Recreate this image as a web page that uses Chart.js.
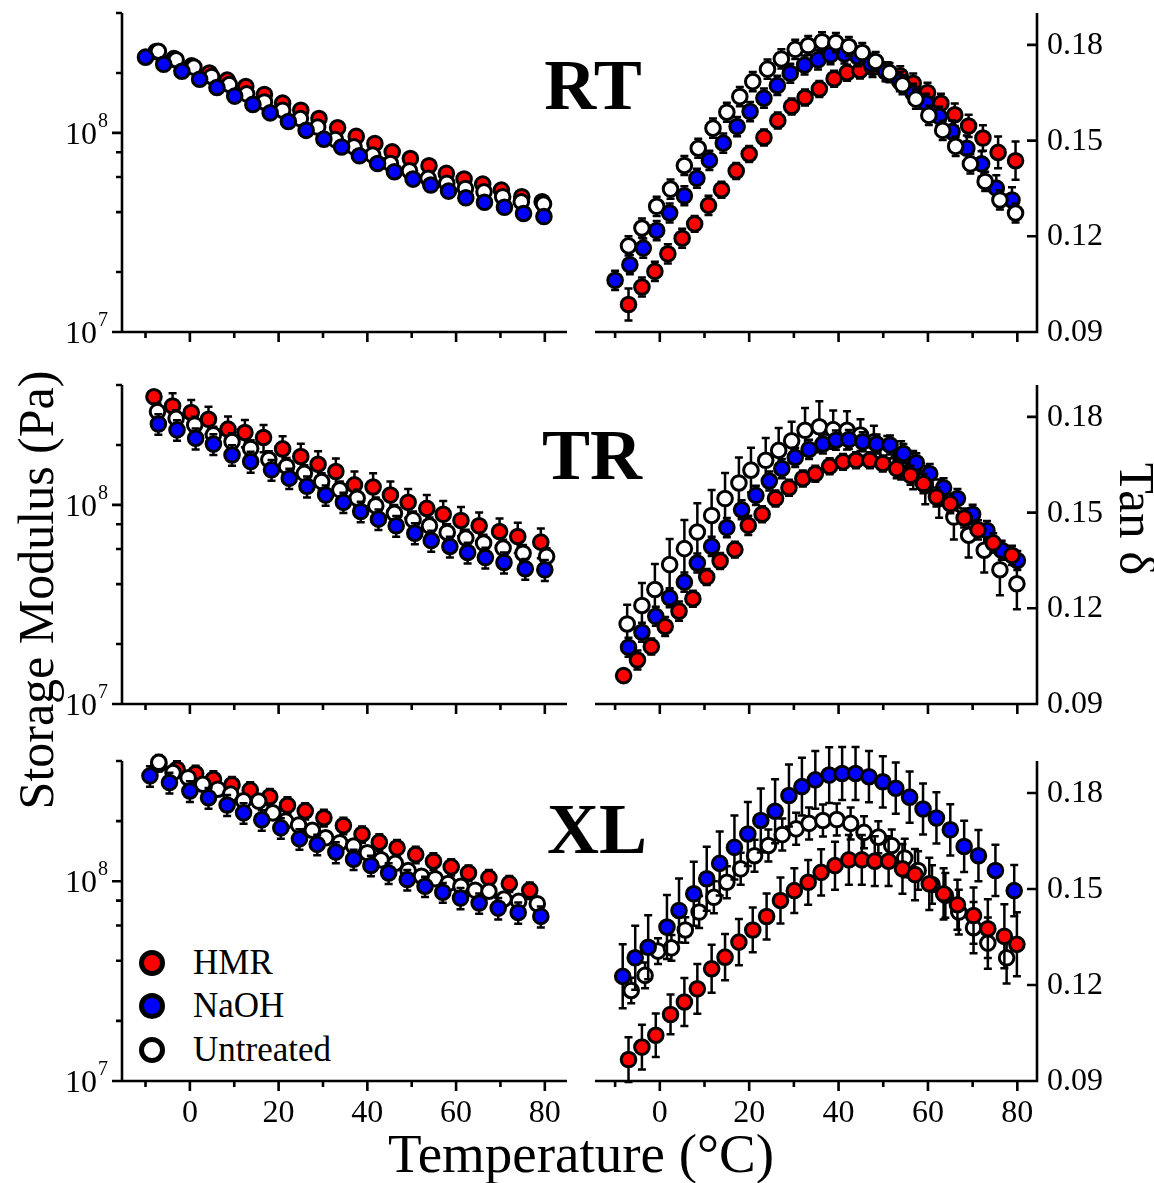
<!DOCTYPE html>
<html lang="en">

<head>
  <meta charset="UTF-8">
  <title>Storage Modulus and Tan δ vs Temperature</title>
  <script src="https://cdn.jsdelivr.net/npm/chart.js"></script>
  <style>
    body { margin: 0; background: #fff; }
    #figure { position: relative; width: 1154px; height: 1183px; overflow: hidden;
      font-family: "Liberation Serif", "Times New Roman", serif; color: #000; }
    #figure canvas { position: absolute; left: 0; top: 0; }
    .txt { position: absolute; white-space: nowrap; line-height: 1; transform: translate(-50%, -50%); }
    .panel-label { font-weight: bold; font-size: 72px; }
    .legend-row { position: absolute; left: 139px; height: 44px; display: flex; align-items: center; font-size: 35px; }
    .legend-row .dot { width: 16px; height: 16px; border: 5px solid #000; border-radius: 50%; margin-right: 28px; }
  </style>
</head>

<body>
  <div id="figure">
    <div class="txt" style="left:36px; top:590px; font-size:50px; transform:translate(-50%,-50%) rotate(-90deg);">Storage Modulus (Pa)</div>
    <div class="txt" style="left:1136px; top:519px; font-size:51px; transform:translate(-50%,-50%) rotate(90deg);">Tan δ</div>
    <div class="txt" style="left:581px; top:1153px; font-size:55px;">Temperature (°C)</div>
    <div class="txt panel-label" style="left:593px; top:85px;">RT</div>
    <div class="txt panel-label" style="left:592px; top:455px;">TR</div>
    <div class="txt panel-label" style="left:597px; top:829px;">XL</div>
    <div class="legend-row" style="top:941px;"><span class="dot" style="background:#ff0000"></span>HMR</div>
    <div class="legend-row" style="top:984px;"><span class="dot" style="background:#0000ff"></span>NaOH</div>
    <div class="legend-row" style="top:1028px;"><span class="dot" style="background:#ffffff"></span>Untreated</div>
  </div>

  <script>
    // ---- ticks ----
    const tempMajorTicks = [0, 20, 40, 60, 80];
    const tempMinorTicks = [-10, 10, 30, 50, 70];
    const modMajorTicks = [1e7, 1e8];
    const modMinorTicks = [2e7, 4e7, 6e7, 8e7, 2e8, 4e8];
    const tanTicks = [0.09, 0.12, 0.15, 0.18];

    // ---- RT : storage modulus (MPa) ----
    const rtModHmrT = [-7.6, -3.6, 0.4, 4.4, 8.4, 12.6, 16.8, 20.9, 25.0, 29.1, 33.3, 37.5, 41.7, 45.6, 49.7, 53.9, 57.8, 61.8, 66.0, 70.2, 74.8, 79.4];
    const rtModHmr = [256, 236, 217, 200, 184, 171, 156, 141, 130, 118, 106, 96, 88.5, 80.3, 74.3, 68.4, 62.6, 58.6, 55.3, 51.6, 47.8, 45.1];
    const rtModHmrErr = [4, 4, 4, 4, 4, 4, 4, 4, 4, 4, 3, 3, 3, 3, 3, 2, 2, 2, 2, 2, 2, 2];
    const rtModNaohT = [-10, -5.9, -1.8, 2.2, 6.1, 10.1, 14.2, 18.1, 22.2, 26.2, 30.2, 34.2, 38.2, 42.3, 46.1, 50.3, 54.3, 58.3, 62.2, 66.4, 70.9, 75.2, 79.8];
    const rtModNaoh = [240, 221, 204, 186, 169, 153, 139, 126, 114, 103, 93, 85, 76.7, 70.2, 63.8, 58.6, 54.7, 51.0, 47.2, 44.8, 42.3, 39.4, 38.0];
    const rtModNaohErr = [4, 3, 3, 3, 3, 3, 2, 2, 2, 2, 2, 2, 2, 1.5, 1.5, 1.5, 1.5, 1.5, 1.5, 1.5, 1.5, 1.5, 1.5];
    const rtModUntT = [-7.1, -3.1, 0.9, 4.9, 8.9, 12.8, 16.8, 20.9, 24.9, 28.8, 32.8, 37.0, 41.2, 45.2, 49.5, 53.7, 57.9, 62.1, 66.3, 70.5, 74.7, 79.7];
    const rtModUnt = [257, 233, 214, 192, 175, 157, 143, 130, 118, 107, 92.6, 85.1, 77.3, 70.2, 64.5, 59.1, 55.8, 52.6, 50.6, 47.8, 45.1, 43.9];
    const rtModUntErr = [5, 4, 4, 4, 3, 3, 3, 3, 3, 2, 2, 2, 2, 2, 2, 2, 1.5, 1.5, 1.5, 1.5, 1.5, 1.5];

    // ---- RT : tan delta ----
    const rtTanHmrT = [-7.0, -4.0, -1.1, 1.8, 5.0, 7.8, 10.9, 13.8, 17.1, 20.0, 23.3, 26.4, 29.5, 32.5, 35.7, 39.0, 41.9, 44.8, 47.6, 51.0, 53.8, 56.7, 59.9, 62.9, 66.0, 69.1, 72.3, 75.7, 79.6];
    const rtTanHmr = [0.0986, 0.1041, 0.1090, 0.1145, 0.1194, 0.1239, 0.1297, 0.1346, 0.1405, 0.1458, 0.1510, 0.1563, 0.1607, 0.1635, 0.1662, 0.1694, 0.1713, 0.1720, 0.1729, 0.1716, 0.1703, 0.1680, 0.1651, 0.1617, 0.1581, 0.1546, 0.1508, 0.1463, 0.1437];
    const rtTanHmrErr = [0.005, 0.003, 0.003, 0.003, 0.003, 0.0025, 0.003, 0.0025, 0.0025, 0.0025, 0.0025, 0.0025, 0.0025, 0.0025, 0.0025, 0.0025, 0.0025, 0.0025, 0.003, 0.003, 0.003, 0.003, 0.003, 0.003, 0.0035, 0.0035, 0.004, 0.005, 0.006];
    const rtTanNaohT = [-10.0, -6.7, -3.7, -0.7, 2.2, 5.5, 8.3, 11.1, 14.2, 17.3, 20.2, 23.3, 26.3, 29.2, 32.4, 35.4, 38.2, 41.3, 44.3, 47.2, 50.5, 53.7, 56.7, 59.6, 62.5, 65.4, 68.7, 72.0, 75.3, 78.8];
    const rtTanNaoh = [0.1062, 0.1111, 0.1163, 0.1218, 0.1273, 0.1327, 0.1382, 0.1438, 0.1492, 0.1544, 0.1591, 0.1633, 0.1673, 0.1711, 0.1737, 0.1753, 0.1769, 0.1772, 0.1763, 0.1742, 0.1716, 0.1685, 0.1648, 0.1617, 0.1576, 0.1528, 0.1476, 0.1427, 0.1351, 0.1314];
    const rtTanNaohErr = [0.003, 0.003, 0.003, 0.003, 0.003, 0.003, 0.003, 0.003, 0.003, 0.003, 0.003, 0.003, 0.003, 0.003, 0.003, 0.003, 0.003, 0.003, 0.003, 0.003, 0.003, 0.003, 0.003, 0.003, 0.003, 0.0035, 0.004, 0.004, 0.004, 0.004];
    const rtTanUntT = [-7.0, -4.0, -0.7, 2.4, 5.5, 8.6, 11.9, 15.0, 17.9, 20.8, 24.1, 27.2, 30.3, 33.2, 36.3, 39.4, 42.3, 45.3, 48.3, 51.4, 54.3, 57.3, 60.2, 63.3, 66.2, 69.5, 72.8, 76.1, 79.6];
    const rtTanUnt = [0.1170, 0.1226, 0.1294, 0.1348, 0.1422, 0.1476, 0.1539, 0.1589, 0.1638, 0.1685, 0.1724, 0.1756, 0.1786, 0.1798, 0.1810, 0.1807, 0.1795, 0.1776, 0.1748, 0.1713, 0.1675, 0.1630, 0.1579, 0.1532, 0.1482, 0.1427, 0.1372, 0.1314, 0.1273];
    const rtTanUntErr = [0.003, 0.003, 0.003, 0.003, 0.003, 0.003, 0.003, 0.003, 0.003, 0.003, 0.003, 0.003, 0.003, 0.003, 0.003, 0.003, 0.003, 0.003, 0.003, 0.003, 0.003, 0.003, 0.003, 0.003, 0.003, 0.003, 0.003, 0.003, 0.003];

    // ---- TR : storage modulus (MPa) ----
    const trModHmrT = [-8.1, -3.9, 0.3, 4.2, 8.6, 12.4, 16.6, 20.9, 25.0, 28.9, 32.9, 37.1, 41.3, 45.2, 49.2, 53.4, 57.1, 61.1, 65.2, 69.8, 73.9, 79.1];
    const trModHmr = [349, 314, 291, 269, 240, 231, 218, 191, 175, 160, 147, 126, 123, 112, 103, 96, 89.7, 83.5, 78.5, 73.5, 69.4, 65.0];
    const trModHmrErr = [20, 50, 45, 42, 38, 36, 34, 30, 28, 26, 24, 21, 21, 19, 17, 16, 15, 14, 13, 12, 12, 11];
    const trModNaohT = [-7.1, -2.9, 1.3, 5.3, 9.5, 13.7, 18.4, 22.4, 26.4, 30.6, 34.6, 38.5, 42.5, 46.5, 50.7, 54.4, 58.6, 62.6, 66.6, 70.8, 75.6, 80.0];
    const trModNaoh = [255, 238, 216, 202, 178, 165, 150, 136, 124, 112, 103, 92.7, 84.8, 78.5, 72.1, 66.2, 61.8, 57.7, 54.4, 51.4, 47.8, 47.2];
    const trModNaohErr = [30, 28, 26, 24, 21, 20, 18, 16, 15, 13, 12, 11, 10, 9.4, 8.7, 8, 7.4, 6.9, 6.5, 6.2, 5.7, 5.7];
    const trModUntT = [-7.3, -3.1, 1.1, 5.3, 9.5, 13.7, 17.8, 21.8, 25.8, 29.7, 33.8, 37.7, 41.9, 46.1, 50.3, 54.0, 58.0, 62.2, 66.2, 70.6, 75.1, 80.4];
    const trModUnt = [294, 272, 252, 225, 208, 192, 169, 156, 144, 131, 119, 108, 98.9, 90.8, 84.1, 78.5, 72.7, 68.1, 64.3, 60.7, 57.2, 55.1];
    const trModUntErr = [29, 27, 25, 22, 21, 19, 17, 16, 14, 13, 12, 11, 10, 9, 8.4, 7.8, 7.3, 6.8, 6.4, 6.1, 5.7, 5.5];

    // ---- TR : tan delta ----
    const trTanHmrT = [-8.1, -5.0, -1.9, 1.2, 4.3, 7.4, 10.5, 13.5, 16.8, 19.8, 22.9, 25.9, 28.9, 32.0, 34.8, 38.0, 41.0, 43.9, 47.0, 49.9, 53.0, 56.1, 59.0, 61.9, 65.0, 68.1, 71.2, 74.6, 78.8];
    const trTanHmr = [0.0989, 0.1038, 0.1080, 0.1143, 0.1191, 0.1230, 0.1298, 0.1348, 0.1384, 0.1460, 0.1495, 0.1544, 0.1578, 0.1607, 0.1622, 0.1645, 0.1659, 0.1664, 0.1664, 0.1654, 0.1638, 0.1617, 0.1591, 0.1549, 0.1528, 0.1483, 0.1446, 0.1405, 0.1366];
    const trTanHmrErr = [0.002, 0.003, 0.0025, 0.003, 0.003, 0.0025, 0.0025, 0.0025, 0.0025, 0.003, 0.0025, 0.0025, 0.0025, 0.0025, 0.0025, 0.0025, 0.0025, 0.0025, 0.0025, 0.0025, 0.003, 0.003, 0.003, 0.003, 0.003, 0.003, 0.003, 0.003, 0.003];
    const trTanNaohT = [-7.0, -4.0, -0.9, 2.2, 5.5, 8.4, 11.6, 15.0, 18.3, 21.5, 24.5, 27.3, 30.3, 33.4, 36.5, 39.4, 42.3, 45.4, 48.5, 51.5, 54.5, 57.4, 60.4, 63.5, 66.6, 70.0, 73.2, 76.5, 80.0];
    const trTanNaoh = [0.1078, 0.1125, 0.1175, 0.1233, 0.1282, 0.1342, 0.1394, 0.1453, 0.1509, 0.1554, 0.1599, 0.1638, 0.1673, 0.1698, 0.1715, 0.1727, 0.1729, 0.1722, 0.1715, 0.1712, 0.1685, 0.1656, 0.1622, 0.1578, 0.1544, 0.1495, 0.1444, 0.1382, 0.1350];
    const trTanNaohErr = [0.003, 0.003, 0.003, 0.003, 0.003, 0.003, 0.003, 0.003, 0.003, 0.003, 0.003, 0.003, 0.003, 0.003, 0.003, 0.003, 0.003, 0.003, 0.003, 0.003, 0.003, 0.003, 0.003, 0.003, 0.003, 0.003, 0.003, 0.003, 0.003];
    const trTanUntT = [-7.3, -4.0, -1.1, 2.2, 5.5, 8.4, 11.6, 14.6, 17.7, 20.4, 23.7, 26.6, 29.5, 32.5, 35.7, 38.8, 41.9, 44.9, 47.9, 50.9, 54.0, 56.7, 59.4, 62.5, 65.8, 69.1, 72.6, 76.1, 79.9];
    const trTanUnt = [0.1151, 0.1209, 0.1259, 0.1337, 0.1387, 0.1439, 0.1491, 0.1544, 0.1593, 0.1633, 0.1664, 0.1695, 0.1725, 0.1758, 0.1769, 0.1760, 0.1758, 0.1743, 0.1722, 0.1690, 0.1664, 0.1633, 0.1586, 0.1544, 0.1486, 0.1429, 0.1382, 0.1321, 0.1277];
    const trTanUntErr = [0.006, 0.007, 0.008, 0.008, 0.009, 0.009, 0.008, 0.008, 0.008, 0.007, 0.007, 0.007, 0.006, 0.007, 0.008, 0.006, 0.006, 0.005, 0.005, 0.005, 0.006, 0.006, 0.006, 0.006, 0.007, 0.007, 0.007, 0.008, 0.008];

    // ---- XL : storage modulus (MPa) ----
    const xlModHmrT = [-7.0, -2.9, 1.3, 5.3, 9.5, 13.6, 18.0, 22.0, 26.0, 30.2, 34.6, 38.8, 42.7, 46.7, 50.9, 54.9, 58.9, 62.8, 67.4, 72.0, 76.6];
    const xlModHmr = [385, 364, 346, 324, 304, 286, 265, 240, 225, 208, 190, 172, 157, 147, 136, 126, 118, 110, 104, 97.3, 90.1];
    const xlModHmrErr = [30, 35, 33, 31, 29, 27, 25, 23, 21, 20, 18, 16, 15, 14, 13, 12, 11, 10, 10, 9, 8.5];
    const xlModNaohT = [-9.0, -4.6, 0.0, 4.2, 8.4, 12.1, 16.2, 20.5, 24.7, 28.7, 32.9, 36.9, 40.8, 44.8, 49.0, 53.0, 57.0, 61.0, 65.2, 69.5, 74.0, 79.1];
    const xlModNaoh = [337, 312, 283, 262, 241, 220, 203, 185, 163, 153, 140, 129, 120, 110, 102, 94.4, 88.1, 82.4, 77.8, 73.4, 69.8, 66.7];
    const xlModNaohErr = [40, 37, 34, 31, 29, 26, 24, 22, 19, 18, 17, 15, 14, 13, 12, 11, 10, 10, 9, 9, 8.5, 8];
    const xlModUntT = [-7.0, -3.8, -0.4, 2.9, 6.3, 9.2, 12.1, 15.5, 18.7, 21.6, 24.5, 27.6, 30.6, 33.8, 36.9, 40.0, 43.1, 46.3, 49.2, 52.2, 55.3, 58.2, 61.1, 64.3, 67.4, 70.8, 74.1, 78.3];
    const xlModUnt = [394, 350, 330, 306, 289, 273, 253, 252, 220, 200, 191, 180, 165, 156, 150, 139, 128, 123, 113, 106, 103, 97.4, 94.4, 90.1, 89.1, 81.5, 79.3, 77.2];
    const xlModUntErr = [35, 25, 20, 18, 14, 14, 12, 12, 10, 9, 9, 8, 8, 7, 7, 6, 6, 6, 5, 5, 5, 5, 5, 5, 5, 4, 4, 4];

    // ---- XL : tan delta ----
    const xlTanHmrT = [-7.0, -4.0, -0.9, 2.4, 5.5, 8.4, 11.6, 14.6, 17.7, 20.8, 23.9, 27.0, 30.1, 33.2, 36.1, 39.2, 42.3, 45.2, 48.1, 51.2, 54.3, 57.1, 60.3, 63.5, 66.6, 70.2, 73.4, 77.1, 79.9];
    const xlTanHmr = [0.0967, 0.1006, 0.1043, 0.1108, 0.1147, 0.1188, 0.1251, 0.1287, 0.1334, 0.1372, 0.1414, 0.1464, 0.1495, 0.1521, 0.1552, 0.1573, 0.1591, 0.1591, 0.1587, 0.1587, 0.1563, 0.1545, 0.1516, 0.1485, 0.1451, 0.1417, 0.1376, 0.1352, 0.1327];
    const xlTanHmrErr = [0.007, 0.007, 0.0068, 0.0062, 0.0075, 0.0078, 0.0075, 0.0072, 0.0072, 0.007, 0.0072, 0.0072, 0.007, 0.007, 0.0072, 0.0075, 0.0078, 0.0078, 0.0078, 0.0078, 0.0078, 0.008, 0.0082, 0.008, 0.0078, 0.0088, 0.0092, 0.01, 0.01];
    const xlTanNaohT = [-8.3, -5.5, -2.6, 1.6, 4.3, 7.6, 10.5, 13.4, 16.7, 19.7, 22.6, 25.8, 28.9, 31.8, 34.8, 37.9, 40.8, 43.8, 46.8, 49.9, 52.8, 55.9, 58.9, 61.9, 65.0, 68.1, 71.3, 75.1, 79.3];
    const xlTanNaoh = [0.1227, 0.1285, 0.1318, 0.1381, 0.1433, 0.1485, 0.1532, 0.1580, 0.1630, 0.1672, 0.1714, 0.1743, 0.1792, 0.1820, 0.1841, 0.1856, 0.1861, 0.1861, 0.1851, 0.1835, 0.1815, 0.1787, 0.1750, 0.1722, 0.1685, 0.1633, 0.1604, 0.1558, 0.1495];
    const xlTanNaohErr = [0.010, 0.010, 0.010, 0.010, 0.010, 0.010, 0.010, 0.010, 0.010, 0.010, 0.010, 0.010, 0.0097, 0.009, 0.009, 0.0087, 0.0083, 0.0083, 0.008, 0.008, 0.008, 0.008, 0.008, 0.008, 0.008, 0.008, 0.008, 0.008, 0.008];
    const xlTanUntT = [-6.4, -3.3, -0.4, 2.6, 5.7, 8.8, 12.1, 15.0, 18.1, 21.2, 24.3, 27.4, 30.5, 33.4, 36.5, 39.6, 42.7, 45.7, 48.9, 51.9, 54.8, 57.8, 60.9, 63.9, 66.9, 70.2, 73.4, 77.6];
    const xlTanUnt = [0.1183, 0.1230, 0.1306, 0.1316, 0.1372, 0.1428, 0.1474, 0.1521, 0.1563, 0.1604, 0.1636, 0.1670, 0.1688, 0.1705, 0.1714, 0.1717, 0.1705, 0.1677, 0.1662, 0.1636, 0.1597, 0.1558, 0.1514, 0.1480, 0.1428, 0.1379, 0.1331, 0.1285];
    const xlTanUntErr = [0.004, 0.004, 0.004, 0.004, 0.004, 0.005, 0.005, 0.005, 0.005, 0.005, 0.005, 0.005, 0.005, 0.005, 0.005, 0.005, 0.005, 0.005, 0.005, 0.005, 0.006, 0.006, 0.006, 0.007, 0.007, 0.008, 0.008, 0.008];

    const HMR = { name: 'HMR', color: '#ff0000' };
    const NAOH = { name: 'NaOH', color: '#0000ff' };
    const UNT = { name: 'Untreated', color: '#ffffff' };
    const FONT = '"Liberation Serif", "Times New Roman", serif';

    // error bars drawn just before each dataset's markers
    const errorBars = {
      id: 'errorBars',
      beforeDatasetDraw(chart, args) {
        const ds = chart.data.datasets[args.index];
        if (!ds.errors) return;
        const { ctx, scales: { y } } = chart;
        ctx.save();
        ctx.strokeStyle = '#000';
        ctx.lineWidth = 2.5;
        args.meta.data.forEach((pt, i) => {
          const v = ds.data[i].y, e = ds.errors[i];
          const top = y.getPixelForValue(v + e), bot = y.getPixelForValue(v - e);
          ctx.beginPath();
          ctx.moveTo(pt.x, top); ctx.lineTo(pt.x, bot);
          ctx.moveTo(pt.x - 4, top); ctx.lineTo(pt.x + 4, top);
          ctx.moveTo(pt.x - 4, bot); ctx.lineTo(pt.x + 4, bot);
          ctx.stroke();
        });
        ctx.restore();
      }
    };

    // Origin-like axes: only bottom + one side
    const frame = {
      id: 'frame',
      beforeDatasetsDraw(chart, args, opts) {
        const { ctx, chartArea: a, scales: { x, y } } = chart;
        ctx.save();
        ctx.strokeStyle = '#000';
        ctx.fillStyle = '#000';
        ctx.lineWidth = 2.6;
        ctx.beginPath();
        if (opts.side === 'left') {
          ctx.moveTo(a.left, a.top); ctx.lineTo(a.left, a.bottom);
          ctx.moveTo(a.left - 8, a.bottom); ctx.lineTo(a.right, a.bottom);
        } else {
          ctx.moveTo(a.right, a.top); ctx.lineTo(a.right, a.bottom + 1.3);
          ctx.moveTo(a.left, a.bottom); ctx.lineTo(a.right, a.bottom);
        }
        tempMajorTicks.forEach(t => { const px = x.getPixelForValue(t); ctx.moveTo(px, a.bottom); ctx.lineTo(px, a.bottom + 10); });
        tempMinorTicks.forEach(t => { const px = x.getPixelForValue(t); ctx.moveTo(px, a.bottom); ctx.lineTo(px, a.bottom + 6); });
        if (opts.side === 'left') {
          modMajorTicks.forEach(v => { const py = y.getPixelForValue(v); ctx.moveTo(a.left, py); ctx.lineTo(a.left - 10, py); });
          modMinorTicks.forEach(v => { const py = y.getPixelForValue(v); ctx.moveTo(a.left, py); ctx.lineTo(a.left - 6, py); });
        } else {
          tanTicks.slice(1).forEach(v => { const py = y.getPixelForValue(v); ctx.moveTo(a.right, py); ctx.lineTo(a.right - 10, py); });
        }
        ctx.stroke();

        // tick labels
        if (opts.xLabels) {
          ctx.font = '32px ' + FONT;
          ctx.textAlign = 'center';
          ctx.textBaseline = 'alphabetic';
          tempMajorTicks.forEach(t => ctx.fillText(String(t), x.getPixelForValue(t), a.bottom + 41));
        }
        ctx.textBaseline = 'alphabetic';
        if (opts.side === 'left') {
          modMajorTicks.forEach(v => {
            const py = y.getPixelForValue(v);
            ctx.font = '32px ' + FONT;
            ctx.textAlign = 'right';
            ctx.fillText('10', a.left - 25, py + 11);
            ctx.font = '20px ' + FONT;
            ctx.textAlign = 'left';
            ctx.fillText(String(Math.round(Math.log10(v))), a.left - 24, py - 6);
          });
        } else {
          ctx.font = '32px ' + FONT;
          ctx.textAlign = 'left';
          tanTicks.forEach(v => ctx.fillText(v.toFixed(2), a.right + 10, y.getPixelForValue(v) + 9));
        }
        ctx.restore();
      }
    };

    function makeDataset(kind, t, v, err, unit) {
      return {
        label: kind.name,
        data: t.map((tt, i) => ({ x: tt, y: v[i] * unit })),
        errors: err.map(e => e * unit),
        backgroundColor: kind.color,
        borderColor: '#000',
        borderWidth: 3,
        pointRadius: 7.3,
        pointHoverRadius: 7.3,
        clip: false
      };
    }

    function makePanel(panel) {
      const canvas = document.createElement('canvas');
      canvas.width = 1154;
      canvas.height = 1183;
      document.getElementById('figure').appendChild(canvas);
      const isMod = panel.side === 'left';
      new Chart(canvas, {
        type: 'scatter',
        data: { datasets: panel.datasets },
        options: {
          responsive: false,
          animation: false,
          events: [],
          layout: { padding: { left: panel.left, right: 1154 - panel.right, top: panel.top, bottom: 1183 - panel.bottom } },
          plugins: {
            legend: { display: false },
            tooltip: { enabled: false },
            frame: { side: panel.side, xLabels: panel.xLabels }
          },
          scales: {
            x: { type: 'linear', display: false, min: isMod ? -15.3 : -14.5, max: isMod ? 85 : 84.4 },
            y: isMod
              ? { type: 'logarithmic', display: false, min: 1e7, max: 4e8 }
              : { type: 'linear', display: false, min: 0.09, max: 0.19 }
          }
        },
        plugins: [errorBars, frame]
      });
    }

    const rows = [{ top: 13, bottom: 332 }, { top: 385, bottom: 704 }, { top: 761, bottom: 1081 }];
    const MPa = 1e6;

    // first dataset in the list ends up on top
    makePanel({ side: 'left', left: 122, right: 567, ...rows[0], xLabels: false, datasets: [
      makeDataset(NAOH, rtModNaohT, rtModNaoh, rtModNaohErr, MPa),
      makeDataset(UNT, rtModUntT, rtModUnt, rtModUntErr, MPa),
      makeDataset(HMR, rtModHmrT, rtModHmr, rtModHmrErr, MPa)] });
    makePanel({ side: 'right', left: 595, right: 1037, ...rows[0], xLabels: false, datasets: [
      makeDataset(UNT, rtTanUntT, rtTanUnt, rtTanUntErr, 1),
      makeDataset(NAOH, rtTanNaohT, rtTanNaoh, rtTanNaohErr, 1),
      makeDataset(HMR, rtTanHmrT, rtTanHmr, rtTanHmrErr, 1)] });

    makePanel({ side: 'left', left: 122, right: 567, ...rows[1], xLabels: false, datasets: [
      makeDataset(NAOH, trModNaohT, trModNaoh, trModNaohErr, MPa),
      makeDataset(UNT, trModUntT, trModUnt, trModUntErr, MPa),
      makeDataset(HMR, trModHmrT, trModHmr, trModHmrErr, MPa)] });
    makePanel({ side: 'right', left: 595, right: 1037, ...rows[1], xLabels: false, datasets: [
      makeDataset(HMR, trTanHmrT, trTanHmr, trTanHmrErr, 1),
      makeDataset(NAOH, trTanNaohT, trTanNaoh, trTanNaohErr, 1),
      makeDataset(UNT, trTanUntT, trTanUnt, trTanUntErr, 1)] });

    makePanel({ side: 'left', left: 122, right: 567, ...rows[2], xLabels: true, datasets: [
      makeDataset(NAOH, xlModNaohT, xlModNaoh, xlModNaohErr, MPa),
      makeDataset(UNT, xlModUntT, xlModUnt, xlModUntErr, MPa),
      makeDataset(HMR, xlModHmrT, xlModHmr, xlModHmrErr, MPa)] });
    makePanel({ side: 'right', left: 595, right: 1037, ...rows[2], xLabels: true, datasets: [
      makeDataset(HMR, xlTanHmrT, xlTanHmr, xlTanHmrErr, 1),
      makeDataset(NAOH, xlTanNaohT, xlTanNaoh, xlTanNaohErr, 1),
      makeDataset(UNT, xlTanUntT, xlTanUnt, xlTanUntErr, 1)] });
  </script>
</body>

</html>
